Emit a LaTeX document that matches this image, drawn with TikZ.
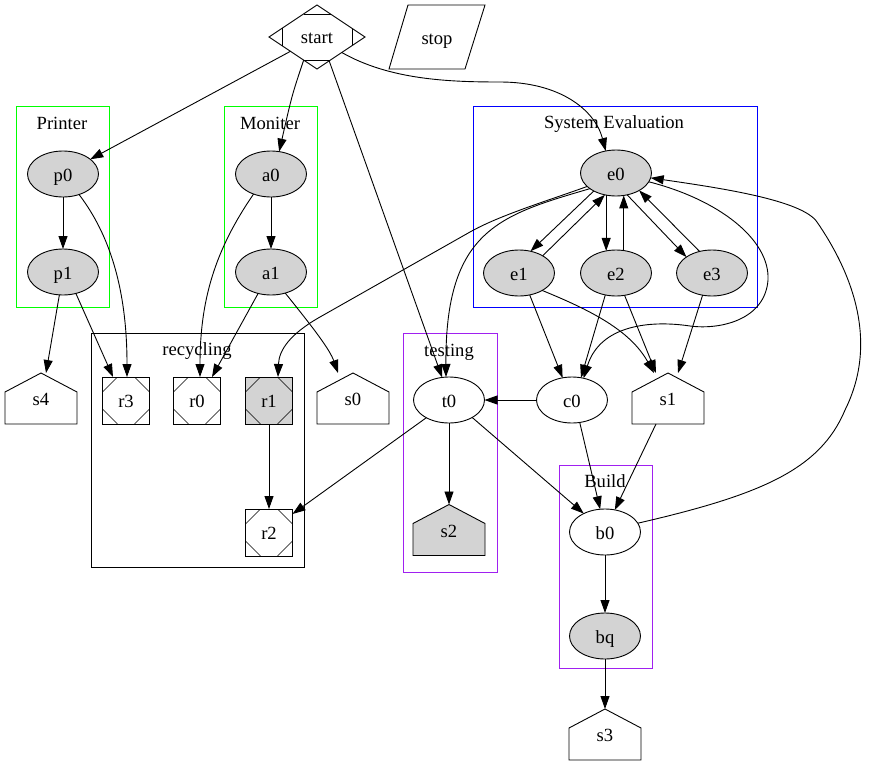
\documentclass[tikz,border=0pt]{standalone}
\usepackage{fontspec}
\setmainfont{Liberation Serif}
\usetikzlibrary{shapes.geometric,arrows.meta,calc}
\definecolor{gvgray}{HTML}{D3D3D3}
\definecolor{gvpurple}{HTML}{A020F0}
\definecolor{gvgreen}{HTML}{00FF00}
\definecolor{gvblue}{HTML}{0000FF}
\makeatletter
\pgfdeclareshape{house}{
  \inheritsavedanchors[from=rectangle]
  \inheritanchorborder[from=rectangle]
  \inheritanchor[from=rectangle]{center}
  \inheritanchor[from=rectangle]{north}
  \inheritanchor[from=rectangle]{south}
  \inheritanchor[from=rectangle]{east}
  \inheritanchor[from=rectangle]{west}
  \inheritanchor[from=rectangle]{north east}
  \inheritanchor[from=rectangle]{north west}
  \inheritanchor[from=rectangle]{south east}
  \inheritanchor[from=rectangle]{south west}
  \backgroundpath{
    \southwest \pgf@xa=\pgf@x \pgf@ya=\pgf@y
    \northeast \pgf@xb=\pgf@x \pgf@yb=\pgf@y
    \pgf@xc=.5\pgf@xa \advance\pgf@xc by .5\pgf@xb
    \pgf@yc=\pgf@yb \advance\pgf@yc by -19pt
    \pgfpathmoveto{\pgfqpoint{\pgf@xa}{\pgf@ya}}
    \pgfpathlineto{\pgfqpoint{\pgf@xb}{\pgf@ya}}
    \pgfpathlineto{\pgfqpoint{\pgf@xb}{\pgf@yc}}
    \pgfpathlineto{\pgfqpoint{\pgf@xc}{\pgf@yb}}
    \pgfpathlineto{\pgfqpoint{\pgf@xa}{\pgf@yc}}
    \pgfpathclose
  }
}
\makeatother
\begin{document}
\begin{tikzpicture}[x=1pt,y=-1pt,line width=0.9pt,
  every node/.style={font=\fontsize{18.6}{22}\selectfont,text height=16pt,text depth=2pt},
  ell/.style={ellipse,draw,minimum width=71pt,minimum height=46pt,inner sep=0pt,outer sep=0pt},
  gell/.style={ell,fill=gvgray},
  hs/.style={house,draw,minimum width=72pt,minimum height=51pt,inner sep=0pt,outer sep=0pt},
  msq/.style={rectangle,draw,minimum size=47pt,inner sep=0pt,outer sep=0pt,
    path picture={
      \draw[line width=0.6pt]
        ([yshift=-15pt]path picture bounding box.north west) -- ([xshift=15pt]path picture bounding box.north west)
        ([xshift=-15pt]path picture bounding box.north east) -- ([yshift=-15pt]path picture bounding box.north east)
        ([yshift=15pt]path picture bounding box.south west) -- ([xshift=15pt]path picture bounding box.south west)
        ([xshift=-15pt]path picture bounding box.south east) -- ([yshift=15pt]path picture bounding box.south east);
    }},
  mdia/.style={diamond,draw,minimum width=96pt,minimum height=64pt,inner sep=0pt,outer sep=0pt,
    path picture={
      \draw[line width=0.6pt]
        ([xshift=-13.5pt,yshift=23pt]path picture bounding box.center) -- ([xshift=13.5pt,yshift=23pt]path picture bounding box.center)
        ([xshift=-13.5pt,yshift=-23pt]path picture bounding box.center) -- ([xshift=13.5pt,yshift=-23pt]path picture bounding box.center)
        ([xshift=-35pt,yshift=-8.7pt]path picture bounding box.center) -- ([xshift=-35pt,yshift=8.7pt]path picture bounding box.center)
        ([xshift=35pt,yshift=-8.7pt]path picture bounding box.center) -- ([xshift=35pt,yshift=8.7pt]path picture bounding box.center);
    }},
  clus/.style={rectangle,draw,line width=1pt,inner sep=0pt,outer sep=0pt},
  edge/.style={-{Triangle[length=13pt,width=9pt]}}
]
\useasboundingbox (0,0) rectangle (885,781);
% clusters
\node[clus,draw=gvgreen,minimum width=93pt,minimum height=200pt] (printer) at (62.5,207) {};
\node (printerlbl) at (62,122) {Printer};
\node[clus,draw=gvgreen,minimum width=93pt,minimum height=200pt] (moniter) at (270.5,207) {};
\node (moniterlbl) at (270,122) {Moniter};
\node[clus,draw=gvblue,minimum width=284pt,minimum height=200pt] (syseval) at (615,207) {};
\node (sysevallbl) at (614,121.5) {System Evaluation};
\node[clus,draw=black,minimum width=213pt,minimum height=234pt] (recycling) at (197.5,450) {};
\node (recyclinglbl) at (197,348) {recycling};
\node[clus,draw=gvpurple,minimum width=94pt,minimum height=239pt] (testing) at (450,452.5) {};
\node (testinglbl) at (449,349) {testing};
\node[clus,draw=gvpurple,minimum width=93pt,minimum height=203pt] (build) at (605.5,566.5) {};
\node (buildlbl) at (605,480) {Build};
% nodes
\node[mdia] (start) at (317,37) {start};
\node (stop) at (437,38) {stop};
\draw ([xshift=-29pt,yshift=33pt]stop.center) -- ([xshift=48pt,yshift=33pt]stop.center)
  -- ([xshift=28pt,yshift=-31pt]stop.center) -- ([xshift=-48pt,yshift=-31pt]stop.center) -- cycle;
\node[gell] (p0) at (63,174) {p0};
\node[gell] (p1) at (63,272) {p1};
\node[gell] (a0) at (271,174) {a0};
\node[gell] (a1) at (271,272) {a1};
\node[gell] (e0) at (616,173) {e0};
\node[gell] (e1) at (519,273) {e1};
\node[gell] (e2) at (616,273) {e2};
\node[gell] (e3) at (712,273) {e3};
\node[hs] (s4) at (41,398.5) {s4};
\node[msq] (r3) at (126,400.5) {r3};
\node[msq] (r0) at (197,400.5) {r0};
\node[msq,fill=gvgray] (r1) at (269,400.5) {r1};
\node[msq] (r2) at (269,532.5) {r2};
\node[hs] (s0) at (353,398.5) {s0};
\node[ell] (t0) at (449,400) {t0};
\node[ell] (c0) at (572,400) {c0};
\node[hs] (s1) at (668,398.5) {s1};
\node[hs,fill=gvgray] (s2) at (449,530) {s2};
\node[ell] (b0) at (605,532) {b0};
\node[gell] (bq) at (605,636) {bq};
\node[hs] (s3) at (605,734.5) {s3};
% edges
\draw[edge] (start) -- (p0);
\draw[edge] (start.240) .. controls (292,95) .. (a0.70);
\draw[edge] (start.297) -- (t0.107);
\draw[edge] (start.328) .. controls (390,80) and (450,82) .. (500,82) .. controls (560,82) and (595,110) .. (e0.115);
\draw[edge] (p0) -- (p1);
\draw[edge] (p0.308) .. controls (110,235) and (127,290) .. ([xshift=1pt]r3.north);
\draw[edge] (p1.261) -- ([xshift=5pt]s4.north);
\draw[edge] (p1.301) -- ([xshift=-13pt]r3.north);
\draw[edge] (a0) -- (a1);
\draw[edge] (a0.229) .. controls (215,250) and (200,300) .. ([xshift=3pt]r0.north);
\draw[edge] (a1.239) -- ([xshift=15pt]r0.north);
\draw[edge] (a1.304) .. controls (315,330) and (330,350) .. ([xshift=-15pt]s0.north);
\draw[edge] (e0.205) .. controls (550,200) and (500,215) .. (470,232) -- (320,317) .. controls (290,334) and (279,350) .. ([xshift=9pt]r1.north);
\draw[edge] (e0.211) .. controls (500,215) and (445,230) .. ([xshift=-3pt]t0.north);
\draw[edge] (e0.219) -- (e1.62);
\draw[edge] (e1.36) -- (e0.243);
\draw[edge] (e0.246) -- (e2.114);
\draw[edge] (e2.71) -- (e0.289);
\draw[edge] (e0.297) -- (e3.148);
\draw[edge] (e3.120) -- (e0.323);
\draw[edge] (e0.345) .. controls (720,200) and (770,240) .. (768,280) .. controls (765,320) and (720,330) .. (690,326) .. controls (650,320) and (600,325) .. (c0.62);
\draw[edge] (b0.15) .. controls (760,495) and (820,470) .. (845,410) .. controls (880,340) and (850,270) .. (817,222) .. controls (802,200) and (720,188) .. (e0.352);
\draw[edge] (e1.296) -- (c0.113);
\draw[edge] (e1.323) .. controls (590,310) and (630,330) .. ([xshift=-14pt]s1.north);
\draw[edge] (e2.244) -- (c0.68);
\draw[edge] (e2.291) -- ([xshift=-12pt]s1.north);
\draw[edge] (e3.247) -- ([xshift=10pt]s1.north);
\draw[edge] (c0) -- (t0);
\draw[edge] (c0.289) -- (b0.102);
\draw[edge] ([xshift=-12pt]s1.south) -- (b0.66);
\draw[edge] (t0.323) -- (b0.139);
\draw[edge] (t0.218) -- ([yshift=-5pt]r2.north east);
\draw[edge] (t0) -- (s2);
\draw[edge] (r1) -- (r2);
\draw[edge] (b0) -- (bq);
\draw[edge] (bq) -- (s3);
\end{tikzpicture}
\end{document}
